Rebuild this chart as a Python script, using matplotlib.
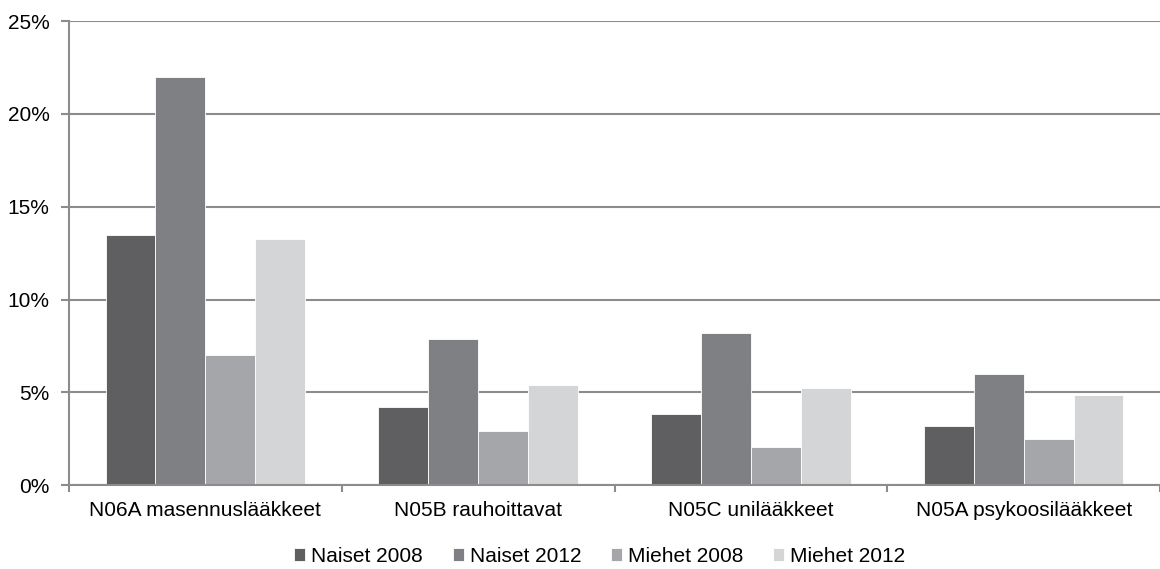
import matplotlib.pyplot as plt
import numpy as np
from matplotlib.ticker import PercentFormatter

plt.rcParams['font.family'] = ['Liberation Sans', 'DejaVu Sans']

categories = ["N06A masennuslääkkeet", "N05B rauhoittavat",
              "N05C unilääkkeet", "N05A psykoosilääkkeet"]
series = ["Naiset 2008", "Naiset 2012", "Miehet 2008", "Miehet 2012"]
naiset_2008 = [13.5, 4.2, 3.85, 3.2]
naiset_2012 = [22.0, 7.9, 8.2, 6.0]
miehet_2008 = [7.0, 2.95, 2.05, 2.5]
miehet_2012 = [13.25, 5.4, 5.25, 4.85]
values = [naiset_2008, naiset_2012, miehet_2008, miehet_2012]
colors = ["#5f5f61", "#7f8083", "#a5a6a9", "#d4d5d7"]

fig = plt.figure(figsize=(11.6, 5.69), dpi=100)
ax = fig.add_axes([0.0595, 0.147, 0.9405, 0.816])

x = np.arange(len(categories))
w = 0.183
for i, (vals, c, lab) in enumerate(zip(values, colors, series)):
    ax.bar(x + (i - 1.5) * w, vals, width=w, color=c, edgecolor="white",
           linewidth=0.6, label=lab, zorder=3)

ax.set_ylim(0, 25)
ax.set_yticks(range(0, 26, 5))
ax.yaxis.set_major_formatter(PercentFormatter(decimals=0))
ax.set_xlim(-0.5, 3.40)
ax.set_xticks(x)
ax.set_xticklabels(categories)
ax.tick_params(axis="x", length=0, labelsize=15, pad=11)
ax.tick_params(axis="y", length=6, width=1.5, color="#8c8c8c", labelsize=15, pad=8)

# category boundary ticks
ax.set_xticks(np.arange(-0.5, 4, 1), minor=True)
ax.tick_params(axis="x", which="minor", length=5, width=1.5, color="#8c8c8c")

ax.grid(axis="y", color="#8c8c8c", linewidth=1.5, zorder=0)
for s in ["top", "right"]:
    ax.spines[s].set_visible(False)
for s in ["left", "bottom"]:
    ax.spines[s].set_color("#8c8c8c")
    ax.spines[s].set_linewidth(1.5)
    ax.spines[s].set_zorder(4)

fig.legend(loc="center", bbox_to_anchor=(0.517, 0.022), ncol=4, frameon=False,
           fontsize=15, handlelength=0.53, handleheight=0.53, handletextpad=0.29,
           columnspacing=1.43, borderpad=0)

fig.savefig("out.png")
